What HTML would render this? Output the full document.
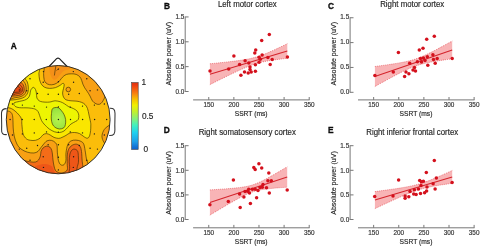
<!DOCTYPE html>
<html><head><meta charset="utf-8"><style>
html,body{margin:0;padding:0;background:#fff;}
svg{display:block;font-family:"Liberation Sans", sans-serif;filter:blur(0.35px);}
text{stroke:#333;stroke-width:0.16px;}
text.b{stroke:#000;stroke-width:0.3px;}
</style></head><body>
<svg width="480" height="247" viewBox="0 0 480 247">
<rect width="480" height="247" fill="#fff"/>
<defs><clipPath id="hc"><ellipse cx="58.2" cy="119.65" rx="51.9" ry="54.15"/></clipPath></defs>
<path d="M6.6,108.6 C3.4,108.6 1.6,109.6 1.5,113 C1.4,118 1.9,124 1.6,129.5 C1.4,133.2 2.6,134.8 6.8,134.6" fill="#fff" stroke="#333" stroke-width="1.05"/>
<path d="M109.8,108.2 C113.3,108 114.9,109.2 115,113.2 C115.1,118.5 114.6,124 114.9,129.5 C115.1,133.6 114,135.6 109.2,135.4" fill="#fff" stroke="#333" stroke-width="1.05"/>
<path d="M48.6,67 L56.6,58.6 Q58,57.6 59.4,58.6 L67.6,67" fill="#fff" stroke="#1a1a1a" stroke-width="1.1" stroke-linejoin="round"/>
<defs><radialGradient id="gg" gradientUnits="userSpaceOnUse" cx="58.6" cy="119" r="10"><stop offset="0" stop-color="#b8f44c"/><stop offset="1" stop-color="#9ae440"/></radialGradient></defs>
<g clip-path="url(#hc)">
<ellipse cx="58.2" cy="119.65" rx="51.9" ry="54.15" fill="#fbbd0a"/>
<path d="M44,58 C31.7,59.72 44.27,65.68 44.2,68.3 C44.13,70.92 43.6,71.78 43.6,73.7 C43.6,75.62 43.8,78.25 44.2,79.8 C44.6,81.35 45.12,82.18 46,83 C46.88,83.82 48.17,84.47 49.5,84.7 C50.83,84.93 52.52,84.85 54,84.4 C55.48,83.95 57.18,82.97 58.4,82 C59.62,81.03 60.45,79.55 61.3,78.6 C62.15,77.65 62.63,77 63.5,76.3 C64.37,75.6 65.18,74.82 66.5,74.4 C67.82,73.98 69.78,73.8 71.4,73.8 C73.02,73.8 74.78,73.88 76.2,74.4 C77.62,74.92 78.98,75.88 79.9,76.9 C80.82,77.92 81.2,79.28 81.7,80.5 C82.2,81.72 82.4,82.98 82.9,84.2 C83.4,85.42 83.98,86.6 84.7,87.8 C85.42,89 86.32,90.03 87.2,91.4 C88.08,92.77 89.12,94.4 90,96 C90.88,97.6 91.5,99.7 92.5,101 C93.5,102.3 94.83,103.25 96,103.8 C97.17,104.35 98.45,104.6 99.5,104.3 C100.55,104 101.47,103.05 102.3,102 C103.13,100.95 103.72,99.33 104.5,98 C105.28,96.67 104.75,94.67 107,94 C109.25,93.33 116.17,100 118,94 C119.83,88 130.33,64 118,58 C105.67,52 56.3,56.28 44,58Z" fill="#f8a014" stroke="#3a2a06" stroke-width="0.7" stroke-opacity="0.9"/>
<path d="M49,60 C45.25,61.67 49.17,67.33 49.5,70 C49.83,72.67 50.33,74.42 51,76 C51.67,77.58 52.58,79 53.5,79.5 C54.42,80 55.5,79.67 56.5,79 C57.5,78.33 58.5,76.67 59.5,75.5 C60.5,74.33 61.42,72.92 62.5,72 C63.58,71.08 64.75,70.58 66,70 C67.25,69.42 69,70.17 70,68.5 C71,66.83 75.5,61.42 72,60 C68.5,58.58 52.75,58.33 49,60Z" fill="#f59018"/>
<path d="M0,111 C1.23,99.5 5.6,110.78 7.4,111 C9.2,111.22 9.95,111.55 10.8,112.3 C11.65,113.05 12.13,113.88 12.5,115.5 C12.87,117.12 12.88,119.92 13,122 C13.12,124.08 13,125.67 13.2,128 C13.4,130.33 13.58,133.33 14.2,136 C14.82,138.67 15.77,141.83 16.9,144 C18.03,146.17 19.25,147.63 21,149 C22.75,150.37 25.25,151.53 27.4,152.2 C29.55,152.87 32.13,153.13 33.9,153 C35.67,152.87 36.88,152.23 38,151.4 C39.12,150.57 39.67,149.2 40.6,148 C41.53,146.8 42.53,145.4 43.6,144.2 C44.67,143 45.68,141.43 47,140.8 C48.32,140.17 50.17,140.15 51.5,140.4 C52.83,140.65 54.08,141.45 55,142.3 C55.92,143.15 56.6,143.73 57,145.5 C57.4,147.27 57.17,150.42 57.4,152.9 C57.63,155.38 57.87,158.43 58.4,160.4 C58.93,162.37 59.67,163.98 60.6,164.7 C61.53,165.42 63.12,165.42 64,164.7 C64.88,163.98 65.57,162.37 65.9,160.4 C66.23,158.43 65.68,155.55 66,152.9 C66.32,150.25 66.95,146.5 67.8,144.5 C68.65,142.5 69.75,141.63 71.1,140.9 C72.45,140.17 74.28,140.03 75.9,140.1 C77.52,140.17 79.48,140.6 80.8,141.3 C82.12,142 83.02,142.37 83.8,144.3 C84.58,146.23 85.05,150.4 85.5,152.9 C85.95,155.4 85.97,157.15 86.5,159.3 C87.03,161.45 87.78,162.35 88.7,165.8 C89.62,169.25 106.78,177.63 92,180 C77.22,182.37 15.33,191.5 0,180 C-15.33,168.5 -1.23,122.5 0,111Z" fill="#f8a014" stroke="#3a2a06" stroke-width="0.7" stroke-opacity="0.9"/>
<path d="M116,124 C114.85,119.9 111.05,124.48 109.1,125.4 C107.15,126.32 105.48,127.82 104.3,129.5 C103.12,131.18 102.22,133.67 102,135.5 C101.78,137.33 102.42,139 103,140.5 C103.58,142 104.67,143.33 105.5,144.5 C106.33,145.67 106.25,146.58 108,147.5 C109.75,148.42 114.67,153.92 116,150 C117.33,146.08 117.15,128.1 116,124Z" fill="#f8a014" stroke="#3a2a06" stroke-width="0.7" stroke-opacity="0.9"/>
<path d="M18,72 C21.13,72.33 21.6,78.08 22.8,80 C24,81.92 24.63,82.2 25.2,83.5 C25.77,84.8 26.1,86.38 26.2,87.8 C26.3,89.22 26.2,90.8 25.8,92 C25.4,93.2 24.77,94.2 23.8,95 C22.83,95.8 21.38,96.37 20,96.8 C18.62,97.23 18.17,97.32 15.5,97.6 C12.83,97.88 5.92,101.77 4,98.5 C2.08,95.23 1.67,82.42 4,78 C6.33,73.58 14.87,71.67 18,72Z" fill="#f8a014" stroke="#3a2a06" stroke-width="0.7" stroke-opacity="0.9"/>
<path d="M16,75 C18.8,75 19.58,80.33 20.8,82 C22.02,83.67 22.73,83.92 23.3,85 C23.87,86.08 24.12,87.33 24.2,88.5 C24.28,89.67 24.22,91.03 23.8,92 C23.38,92.97 22.62,93.72 21.7,94.3 C20.78,94.88 19.92,95.18 18.3,95.5 C16.68,95.82 14.38,95.95 12,96.2 C9.62,96.45 5.33,99.37 4,97 C2.67,94.63 2,85.67 4,82 C6,78.33 13.2,75 16,75Z" fill="#f46c18" stroke="#3a2a06" stroke-width="0.7" stroke-opacity="0.9"/>
<path d="M15,79 C17.3,78.78 18.63,83.37 19.8,84.7 C20.97,86.03 21.55,86.15 22,87 C22.45,87.85 22.55,88.97 22.5,89.8 C22.45,90.63 22.2,91.42 21.7,92 C21.2,92.58 20.37,93 19.5,93.3 C18.63,93.6 18.08,93.6 16.5,93.8 C14.92,94 11.75,95.8 10,94.5 C8.25,93.2 5.17,88.58 6,86 C6.83,83.42 12.7,79.22 15,79Z" fill="#ee5618" stroke="#3a2a06" stroke-width="0.7" stroke-opacity="0.9"/>
<path d="M16,84 C17.42,83.08 17.75,86.25 18.5,87 C19.25,87.75 20.12,87.87 20.5,88.5 C20.88,89.13 21.05,90.22 20.8,90.8 C20.55,91.38 19.8,91.75 19,92 C18.2,92.25 17.5,92.22 16,92.3 C14.5,92.38 10,93.88 10,92.5 C10,91.12 14.58,84.92 16,84Z" fill="#e84a14" stroke="#3a2a06" stroke-width="0.7" stroke-opacity="0.9"/>
<path d="M8,150 C9,145.42 12.38,151.57 14,152.5 C15.62,153.43 16,154.3 17.7,155.6 C19.4,156.9 22.03,159.25 24.2,160.3 C26.37,161.35 28.82,161.62 30.7,161.9 C32.58,162.18 34.2,162.32 35.5,162 C36.8,161.68 37.68,161 38.5,160 C39.32,159 39.98,157.42 40.4,156 C40.82,154.58 40.57,152.83 41,151.5 C41.43,150.17 42.1,148.88 43,148 C43.9,147.12 45.27,146.35 46.4,146.2 C47.53,146.05 48.9,146.38 49.8,147.1 C50.7,147.82 51.35,149.18 51.8,150.5 C52.25,151.82 52.3,153.42 52.5,155 C52.7,156.58 52.75,158.17 53,160 C53.25,161.83 53.58,164.25 54,166 C54.42,167.75 54.75,169.42 55.5,170.5 C56.25,171.58 57.25,172.12 58.5,172.5 C59.75,172.88 61.55,173.22 63,172.8 C64.45,172.38 66.5,171.53 67.2,170 C67.9,168.47 67.17,166.27 67.2,163.6 C67.23,160.93 67.1,156.52 67.4,154 C67.7,151.48 68.18,149.97 69,148.5 C69.82,147.03 71.05,145.92 72.3,145.2 C73.55,144.48 75.22,144.02 76.5,144.2 C77.78,144.38 79.17,145.08 80,146.3 C80.83,147.52 81.13,149.02 81.5,151.5 C81.87,153.98 81.92,158.53 82.2,161.2 C82.48,163.87 82.73,165.53 83.2,167.5 C83.67,169.47 84.2,170.92 85,173 C85.8,175.08 100.83,178.83 88,180 C75.17,181.17 21.33,185 8,180 C-5.33,175 7,154.58 8,150Z" fill="#f46c18" stroke="#3a2a06" stroke-width="0.7" stroke-opacity="0.9"/>
<path d="M30,180 C26.17,178.33 31.08,172.25 32,170 C32.92,167.75 34.33,167.33 35.5,166.5 C36.67,165.67 37.75,165.42 39,165 C40.25,164.58 41.67,164.13 43,164 C44.33,163.87 45.75,163.95 47,164.2 C48.25,164.45 49.5,164.78 50.5,165.5 C51.5,166.22 52.25,166.08 53,168.5 C53.75,170.92 58.83,178.08 55,180 C51.17,181.92 33.83,181.67 30,180Z" fill="#ee5618"/>
<path d="M68,180 C67.02,178.05 69.4,171.43 69.6,168.3 C69.8,165.17 69.15,163.57 69.2,161.2 C69.25,158.83 69.43,155.97 69.9,154.1 C70.37,152.23 71.17,150.82 72,150 C72.83,149.18 73.95,148.98 74.9,149.2 C75.85,149.42 77.12,150 77.7,151.3 C78.28,152.6 78.28,155.12 78.4,157 C78.52,158.88 78.63,160.72 78.4,162.6 C78.17,164.48 77.48,165.4 77,168.3 C76.52,171.2 77,178.05 75.5,180 C74,181.95 68.98,181.95 68,180Z" fill="#ee5618" stroke="#3a2a06" stroke-width="0.7" stroke-opacity="0.9"/>
<path d="M30,60 C32.8,59.75 37.32,66.22 38.8,68.5 C40.28,70.78 38.77,71.82 38.9,73.7 C39.03,75.58 39.18,78.05 39.6,79.8 C40.02,81.55 40.58,82.97 41.4,84.2 C42.22,85.43 43.15,86.5 44.5,87.2 C45.85,87.9 47.67,88.33 49.5,88.4 C51.33,88.47 53.73,88.12 55.5,87.6 C57.27,87.08 58.85,86.02 60.1,85.3 C61.35,84.58 62.32,83.38 63,83.3 C63.68,83.22 64.12,83.93 64.2,84.8 C64.28,85.67 63.77,87.13 63.5,88.5 C63.23,89.87 62.6,91.58 62.6,93 C62.6,94.42 62.93,95.87 63.5,97 C64.07,98.13 64.75,99.17 66,99.8 C67.25,100.43 69.17,100.57 71,100.8 C72.83,101.03 75.22,100.93 77,101.2 C78.78,101.47 80.37,101.85 81.7,102.4 C83.03,102.95 84.03,103.48 85,104.5 C85.97,105.52 86.83,106.75 87.5,108.5 C88.17,110.25 88.48,112.7 89,115 C89.52,117.3 90.3,120.47 90.6,122.3 C90.9,124.13 90.8,124.63 90.8,126 C90.8,127.37 90.8,128.87 90.6,130.5 C90.4,132.13 90.12,134.52 89.6,135.8 C89.08,137.08 88.37,138 87.5,138.2 C86.63,138.4 85.72,137.77 84.4,137 C83.08,136.23 81.22,134.35 79.6,133.6 C77.98,132.85 76.32,132.6 74.7,132.5 C73.08,132.4 71.35,132.52 69.9,133 C68.45,133.48 67.32,134.67 66,135.4 C64.68,136.13 63.22,136.9 62,137.4 C60.78,137.9 60.03,138.4 58.7,138.4 C57.37,138.4 55.42,137.97 54,137.4 C52.58,136.83 51.45,135.63 50.2,135 C48.95,134.37 47.7,133.63 46.5,133.6 C45.3,133.57 44.08,134.03 43,134.8 C41.92,135.57 41.25,137.28 40,138.2 C38.75,139.12 37.08,139.95 35.5,140.3 C33.92,140.65 32.02,140.55 30.5,140.3 C28.98,140.05 27.63,139.85 26.4,138.8 C25.17,137.75 23.85,136.35 23.1,134 C22.35,131.65 22.17,127.2 21.9,124.7 C21.63,122.2 21.95,120.58 21.5,119 C21.05,117.42 20.27,116.52 19.2,115.2 C18.13,113.88 16.62,112.28 15.1,111.1 C13.58,109.92 12.62,108.95 10.1,108.1 C7.58,107.25 1.68,107.27 0,106 C-1.68,104.73 -2,101.5 0,100.5 C2,99.5 9.08,100.2 12,100 C14.92,99.8 15.75,99.63 17.5,99.3 C19.25,98.97 21.08,98.6 22.5,98 C23.92,97.4 25.08,96.7 26,95.7 C26.92,94.7 27.62,93.45 28,92 C28.38,90.55 28.42,88.67 28.3,87 C28.18,85.33 27.85,83.45 27.3,82 C26.75,80.55 25.88,80.3 25,78.3 C24.12,76.3 21.17,73.05 22,70 C22.83,66.95 27.2,60.25 30,60Z" fill="#fae600" stroke="#3a2a06" stroke-width="0.7" stroke-opacity="0.9"/>
<path d="M14,103 C14.75,102.2 17.75,101.87 19.5,101.4 C21.25,100.93 23.08,100.73 24.5,100.2 C25.92,99.67 27.12,99.07 28,98.2 C28.88,97.33 29.38,96.23 29.8,95 C30.22,93.77 30.13,91.93 30.5,90.8 C30.87,89.67 31.45,88.77 32,88.2 C32.55,87.63 33.22,87.18 33.8,87.4 C34.38,87.62 35.07,88.57 35.5,89.5 C35.93,90.43 36.17,91.58 36.4,93 C36.63,94.42 36.43,96.7 36.9,98 C37.37,99.3 38.27,100.15 39.2,100.8 C40.13,101.45 41.13,101.67 42.5,101.9 C43.87,102.13 45.98,102.22 47.4,102.2 C48.82,102.18 49.73,102.03 51,101.8 C52.27,101.57 53.42,100.8 55,100.8 C56.58,100.8 58.92,101.3 60.5,101.8 C62.08,102.3 63.18,103.02 64.5,103.8 C65.82,104.58 66.9,105.7 68.4,106.5 C69.9,107.3 72.02,107.8 73.5,108.6 C74.98,109.4 76.42,110.18 77.3,111.3 C78.18,112.42 78.65,113.93 78.8,115.3 C78.95,116.67 78.75,118.47 78.2,119.5 C77.65,120.53 76.7,120.75 75.5,121.5 C74.3,122.25 72.33,122.98 71,124 C69.67,125.02 68.67,126.43 67.5,127.6 C66.33,128.77 65.33,130.18 64,131 C62.67,131.82 61.08,132.37 59.5,132.5 C57.92,132.63 56.17,132.35 54.5,131.8 C52.83,131.25 50.83,130.08 49.5,129.2 C48.17,128.32 47.42,127.37 46.5,126.5 C45.58,125.63 44.83,125 44,124 C43.17,123 42.23,121.92 41.5,120.5 C40.77,119.08 40.18,117 39.6,115.5 C39.02,114 38.8,112.58 38,111.5 C37.2,110.42 36.45,109.6 34.8,109 C33.15,108.4 30.63,108.12 28.1,107.9 C25.57,107.68 21.78,107.98 19.6,107.7 C17.42,107.42 15.93,106.98 15,106.2 C14.07,105.42 13.25,103.8 14,103Z" fill="#edf502" stroke="#3a2a06" stroke-width="0.7" stroke-opacity="0.9"/>
<path d="M52.3,109 C52.88,108.02 53.95,107.8 55,107.6 C56.05,107.4 57.52,107.27 58.6,107.8 C59.68,108.33 60.6,109.68 61.5,110.8 C62.4,111.92 63.32,113.05 64,114.5 C64.68,115.95 65.37,117.83 65.6,119.5 C65.83,121.17 65.7,123.12 65.4,124.5 C65.1,125.88 64.8,127.05 63.8,127.8 C62.8,128.55 60.87,129.08 59.4,129 C57.93,128.92 56.17,128.13 55,127.3 C53.83,126.47 53.02,125.38 52.4,124 C51.78,122.62 51.45,120.75 51.3,119 C51.15,117.25 51.33,115.17 51.5,113.5 C51.67,111.83 51.72,109.98 52.3,109Z" fill="url(#gg)" stroke="#3a2a06" stroke-width="0.7" stroke-opacity="0.9"/>
<path d="M55.8,66.2 C55.4,69 54.8,72 54.4,75.5 M56.6,70.6 L58.6,68.6" fill="none" stroke="#3a2a06" stroke-width="0.7" stroke-opacity="0.9"/>
<circle cx="68.3" cy="89.5" r="2.3" fill="#f8a014" stroke="#3a2a06" stroke-width="0.7" stroke-opacity="0.9"/>
<circle cx="10.11" cy="119.5" r="0.7" fill="#1a1a1a"/>
<circle cx="12.47" cy="103.93" r="0.7" fill="#1a1a1a"/>
<circle cx="12.47" cy="135.07" r="0.7" fill="#1a1a1a"/>
<circle cx="19.33" cy="89.88" r="0.7" fill="#1a1a1a"/>
<circle cx="19.33" cy="149.12" r="0.7" fill="#1a1a1a"/>
<circle cx="22.21" cy="119.5" r="0.7" fill="#1a1a1a"/>
<circle cx="22.4" cy="105.08" r="0.7" fill="#1a1a1a"/>
<circle cx="22.4" cy="133.92" r="0.7" fill="#1a1a1a"/>
<circle cx="26.73" cy="90.78" r="0.7" fill="#1a1a1a"/>
<circle cx="26.73" cy="148.22" r="0.7" fill="#1a1a1a"/>
<circle cx="30.02" cy="78.74" r="0.7" fill="#1a1a1a"/>
<circle cx="30.02" cy="160.26" r="0.7" fill="#1a1a1a"/>
<circle cx="34.21" cy="119.5" r="0.7" fill="#1a1a1a"/>
<circle cx="34.29" cy="106.12" r="0.7" fill="#1a1a1a"/>
<circle cx="34.29" cy="132.88" r="0.7" fill="#1a1a1a"/>
<circle cx="37.5" cy="93.52" r="0.7" fill="#1a1a1a"/>
<circle cx="37.5" cy="145.48" r="0.7" fill="#1a1a1a"/>
<circle cx="43.22" cy="82.2" r="0.7" fill="#1a1a1a"/>
<circle cx="43.22" cy="156.8" r="0.7" fill="#1a1a1a"/>
<circle cx="43.48" cy="71.58" r="0.7" fill="#1a1a1a"/>
<circle cx="43.48" cy="167.42" r="0.7" fill="#1a1a1a"/>
<circle cx="46.3" cy="119.5" r="0.7" fill="#1a1a1a"/>
<circle cx="46.51" cy="107.09" r="0.7" fill="#1a1a1a"/>
<circle cx="46.51" cy="131.91" r="0.7" fill="#1a1a1a"/>
<circle cx="48.14" cy="94.27" r="0.7" fill="#1a1a1a"/>
<circle cx="48.14" cy="144.73" r="0.7" fill="#1a1a1a"/>
<circle cx="58.4" cy="69.12" r="0.7" fill="#1a1a1a"/>
<circle cx="58.4" cy="81.74" r="0.7" fill="#1a1a1a"/>
<circle cx="58.4" cy="94.26" r="0.7" fill="#1a1a1a"/>
<circle cx="58.4" cy="106.88" r="0.7" fill="#1a1a1a"/>
<circle cx="58.4" cy="119.5" r="0.7" fill="#1a1a1a"/>
<circle cx="58.4" cy="132.12" r="0.7" fill="#1a1a1a"/>
<circle cx="58.4" cy="144.74" r="0.7" fill="#1a1a1a"/>
<circle cx="58.4" cy="157.26" r="0.7" fill="#1a1a1a"/>
<circle cx="58.4" cy="169.88" r="0.7" fill="#1a1a1a"/>
<circle cx="68.66" cy="94.27" r="0.7" fill="#1a1a1a"/>
<circle cx="68.66" cy="144.73" r="0.7" fill="#1a1a1a"/>
<circle cx="70.29" cy="107.09" r="0.7" fill="#1a1a1a"/>
<circle cx="70.29" cy="131.91" r="0.7" fill="#1a1a1a"/>
<circle cx="70.5" cy="119.5" r="0.7" fill="#1a1a1a"/>
<circle cx="73.32" cy="71.58" r="0.7" fill="#1a1a1a"/>
<circle cx="73.32" cy="167.42" r="0.7" fill="#1a1a1a"/>
<circle cx="73.58" cy="82.2" r="0.7" fill="#1a1a1a"/>
<circle cx="73.58" cy="156.8" r="0.7" fill="#1a1a1a"/>
<circle cx="79.3" cy="93.52" r="0.7" fill="#1a1a1a"/>
<circle cx="79.3" cy="145.48" r="0.7" fill="#1a1a1a"/>
<circle cx="82.51" cy="106.12" r="0.7" fill="#1a1a1a"/>
<circle cx="82.51" cy="132.88" r="0.7" fill="#1a1a1a"/>
<circle cx="82.59" cy="119.5" r="0.7" fill="#1a1a1a"/>
<circle cx="86.78" cy="78.74" r="0.7" fill="#1a1a1a"/>
<circle cx="86.78" cy="160.26" r="0.7" fill="#1a1a1a"/>
<circle cx="90.07" cy="90.78" r="0.7" fill="#1a1a1a"/>
<circle cx="90.07" cy="148.22" r="0.7" fill="#1a1a1a"/>
<circle cx="94.4" cy="105.08" r="0.7" fill="#1a1a1a"/>
<circle cx="94.4" cy="133.92" r="0.7" fill="#1a1a1a"/>
<circle cx="94.59" cy="119.5" r="0.7" fill="#1a1a1a"/>
<circle cx="97.47" cy="89.88" r="0.7" fill="#1a1a1a"/>
<circle cx="97.47" cy="149.12" r="0.7" fill="#1a1a1a"/>
<circle cx="104.33" cy="103.93" r="0.7" fill="#1a1a1a"/>
<circle cx="104.33" cy="135.07" r="0.7" fill="#1a1a1a"/>
<circle cx="106.69" cy="119.5" r="0.7" fill="#1a1a1a"/>
</g>
<ellipse cx="58.2" cy="119.65" rx="51.9" ry="54.15" fill="none" stroke="#2a2a2a" stroke-width="0.95"/>
<text transform="translate(10.8,49) scale(1,1.04)" font-size="8.3" font-weight="bold" fill="#111" class="b">A</text>
<defs><linearGradient id="cb" x1="0" y1="1" x2="0" y2="0"><stop offset="0" stop-color="#0f60c8"/><stop offset="0.05" stop-color="#1478d8"/><stop offset="0.12" stop-color="#1ea0e8"/><stop offset="0.25" stop-color="#20d0f0"/><stop offset="0.36" stop-color="#40f0c0"/><stop offset="0.45" stop-color="#80f080"/><stop offset="0.56" stop-color="#c0f030"/><stop offset="0.66" stop-color="#f0f000"/><stop offset="0.75" stop-color="#f8c000"/><stop offset="0.84" stop-color="#f88010"/><stop offset="0.95" stop-color="#f04010"/><stop offset="1" stop-color="#d83010"/></linearGradient></defs>
<rect x="131.6" y="82.5" width="6.6" height="67" fill="url(#cb)" stroke="#4a4a4a" stroke-width="0.6"/>
<text transform="translate(141.6,84.6) scale(1,1.04)" font-size="8.3" fill="#222">1</text>
<text transform="translate(141.9,118.5) scale(1,1.04)" font-size="8.3" fill="#222">0.5</text>
<text transform="translate(143.4,152.4) scale(1,1.04)" font-size="8.3" fill="#222">0</text>
<text transform="translate(164,8.7) scale(1,1.04)" font-size="8.3" font-weight="bold" fill="#111" class="b">B</text>
<text transform="translate(247.3,6.6) scale(1,1.04)" font-size="7.85" text-anchor="middle" fill="#222">Left motor cortex</text>
<path d="M209.9,63.8 L211.84,63.61 L213.77,63.41 L215.71,63.22 L217.64,63.02 L219.58,62.82 L221.51,62.61 L223.44,62.4 L225.38,62.19 L227.31,61.98 L229.25,61.75 L231.19,61.53 L233.12,61.29 L235.06,61.05 L236.99,60.79 L238.93,60.53 L240.86,60.24 L242.8,59.94 L244.73,59.62 L246.67,59.28 L248.6,58.9 L250.54,58.49 L252.47,58.03 L254.41,57.53 L256.34,56.98 L258.28,56.38 L260.21,55.73 L262.14,55.03 L264.08,54.29 L266.01,53.52 L267.95,52.71 L269.88,51.87 L271.82,51.02 L273.75,50.14 L275.69,49.25 L277.62,48.35 L279.56,47.43 L281.5,46.51 L283.43,45.58 L285.37,44.64 L287.3,43.7 L287.3,58.3 L285.37,58.52 L283.43,58.74 L281.5,58.97 L279.56,59.21 L277.62,59.45 L275.69,59.71 L273.75,59.98 L271.82,60.26 L269.88,60.57 L267.95,60.89 L266.01,61.24 L264.08,61.63 L262.14,62.05 L260.21,62.51 L258.28,63.02 L256.34,63.58 L254.41,64.19 L252.47,64.85 L250.54,65.55 L248.6,66.3 L246.67,67.08 L244.73,67.9 L242.8,68.74 L240.86,69.6 L238.93,70.47 L236.99,71.37 L235.06,72.27 L233.12,73.19 L231.19,74.11 L229.25,75.05 L227.31,75.98 L225.38,76.93 L223.44,77.88 L221.51,78.83 L219.58,79.78 L217.64,80.74 L215.71,81.7 L213.77,82.67 L211.84,83.63 L209.9,84.6Z" fill="#f8b4b6"/>
<path d="M209.9,63.8 L211.84,63.61 L213.77,63.41 L215.71,63.22 L217.64,63.02 L219.58,62.82 L221.51,62.61 L223.44,62.4 L225.38,62.19 L227.31,61.98 L229.25,61.75 L231.19,61.53 L233.12,61.29 L235.06,61.05 L236.99,60.79 L238.93,60.53 L240.86,60.24 L242.8,59.94 L244.73,59.62 L246.67,59.28 L248.6,58.9 L250.54,58.49 L252.47,58.03 L254.41,57.53 L256.34,56.98 L258.28,56.38 L260.21,55.73 L262.14,55.03 L264.08,54.29 L266.01,53.52 L267.95,52.71 L269.88,51.87 L271.82,51.02 L273.75,50.14 L275.69,49.25 L277.62,48.35 L279.56,47.43 L281.5,46.51 L283.43,45.58 L285.37,44.64 L287.3,43.7" fill="none" stroke="#e0303a" stroke-width="0.7" stroke-dasharray="0.8 1.2"/>
<path d="M209.9,84.6 L211.84,83.63 L213.77,82.67 L215.71,81.7 L217.64,80.74 L219.58,79.78 L221.51,78.83 L223.44,77.88 L225.38,76.93 L227.31,75.98 L229.25,75.05 L231.19,74.11 L233.12,73.19 L235.06,72.27 L236.99,71.37 L238.93,70.47 L240.86,69.6 L242.8,68.74 L244.73,67.9 L246.67,67.08 L248.6,66.3 L250.54,65.55 L252.47,64.85 L254.41,64.19 L256.34,63.58 L258.28,63.02 L260.21,62.51 L262.14,62.05 L264.08,61.63 L266.01,61.24 L267.95,60.89 L269.88,60.57 L271.82,60.26 L273.75,59.98 L275.69,59.71 L277.62,59.45 L279.56,59.21 L281.5,58.97 L283.43,58.74 L285.37,58.52 L287.3,58.3" fill="none" stroke="#e0303a" stroke-width="0.7" stroke-dasharray="0.8 1.2"/>
<line x1="209.9" y1="74.2" x2="287.3" y2="51" stroke="#d4242c" stroke-width="1.05"/>
<circle cx="210" cy="71.1" r="1.75" fill="#d4101c"/>
<circle cx="228.7" cy="69" r="1.75" fill="#d4101c"/>
<circle cx="233.9" cy="55.9" r="1.75" fill="#d4101c"/>
<circle cx="239.6" cy="64.6" r="1.75" fill="#d4101c"/>
<circle cx="240.9" cy="75.3" r="1.75" fill="#d4101c"/>
<circle cx="244.5" cy="72.1" r="1.75" fill="#d4101c"/>
<circle cx="245.1" cy="60.7" r="1.75" fill="#d4101c"/>
<circle cx="248.2" cy="73.1" r="1.75" fill="#d4101c"/>
<circle cx="248.8" cy="63.1" r="1.75" fill="#d4101c"/>
<circle cx="250" cy="67" r="1.75" fill="#d4101c"/>
<circle cx="250" cy="69.4" r="1.75" fill="#d4101c"/>
<circle cx="251.2" cy="71.9" r="1.75" fill="#d4101c"/>
<circle cx="254.8" cy="53" r="1.75" fill="#d4101c"/>
<circle cx="255.7" cy="49.9" r="1.75" fill="#d4101c"/>
<circle cx="255.4" cy="64.8" r="1.75" fill="#d4101c"/>
<circle cx="255.4" cy="71.3" r="1.75" fill="#d4101c"/>
<circle cx="259.1" cy="57.3" r="1.75" fill="#d4101c"/>
<circle cx="259.1" cy="62.2" r="1.75" fill="#d4101c"/>
<circle cx="260.3" cy="59.3" r="1.75" fill="#d4101c"/>
<circle cx="262.1" cy="54.9" r="1.75" fill="#d4101c"/>
<circle cx="261.7" cy="40.6" r="1.75" fill="#d4101c"/>
<circle cx="267.9" cy="57.6" r="1.75" fill="#d4101c"/>
<circle cx="269.3" cy="34.4" r="1.75" fill="#d4101c"/>
<circle cx="270.2" cy="64.6" r="1.75" fill="#d4101c"/>
<circle cx="272.2" cy="59.5" r="1.75" fill="#d4101c"/>
<circle cx="287.4" cy="57" r="1.75" fill="#d4101c"/>
<line x1="185.2" y1="16.55" x2="185.2" y2="92" stroke="#777" stroke-width="1"/>
<line x1="185.2" y1="16.95" x2="188.6" y2="16.95" stroke="#777" stroke-width="1"/>
<text transform="translate(184.3,19.15) scale(1,1.04)" font-size="6.4" text-anchor="end" fill="#333">1.5</text>
<line x1="185.2" y1="41.8" x2="188.6" y2="41.8" stroke="#777" stroke-width="1"/>
<text transform="translate(184.3,44) scale(1,1.04)" font-size="6.4" text-anchor="end" fill="#333">1.0</text>
<line x1="185.2" y1="66.65" x2="188.6" y2="66.65" stroke="#777" stroke-width="1"/>
<text transform="translate(184.3,68.85) scale(1,1.04)" font-size="6.4" text-anchor="end" fill="#333">0.5</text>
<line x1="185.2" y1="91.5" x2="188.6" y2="91.5" stroke="#777" stroke-width="1"/>
<text transform="translate(184.3,93.7) scale(1,1.04)" font-size="6.4" text-anchor="end" fill="#333">0.0</text>
<line x1="193.1" y1="99.9" x2="309.6" y2="99.9" stroke="#777" stroke-width="1"/>
<line x1="208.75" y1="99.9" x2="208.75" y2="97" stroke="#777" stroke-width="1"/>
<text transform="translate(208.75,106.6) scale(1,1.04)" font-size="6.4" text-anchor="middle" fill="#333">150</text>
<line x1="233.87" y1="99.9" x2="233.87" y2="97" stroke="#777" stroke-width="1"/>
<text transform="translate(233.87,106.6) scale(1,1.04)" font-size="6.4" text-anchor="middle" fill="#333">200</text>
<line x1="258.98" y1="99.9" x2="258.98" y2="97" stroke="#777" stroke-width="1"/>
<text transform="translate(258.98,106.6) scale(1,1.04)" font-size="6.4" text-anchor="middle" fill="#333">250</text>
<line x1="284.1" y1="99.9" x2="284.1" y2="97" stroke="#777" stroke-width="1"/>
<text transform="translate(284.1,106.6) scale(1,1.04)" font-size="6.4" text-anchor="middle" fill="#333">300</text>
<line x1="309.21" y1="99.9" x2="309.21" y2="97" stroke="#777" stroke-width="1"/>
<text transform="translate(309.21,106.6) scale(1,1.04)" font-size="6.4" text-anchor="middle" fill="#333">350</text>
<text transform="translate(251.1,116.3) scale(1,1.04)" font-size="6.7" text-anchor="middle" fill="#222">SSRT (ms)</text>
<text transform="translate(171.3,53.75) rotate(-90)" font-size="7" text-anchor="middle" fill="#222">Absolute power (uV)</text>
<text transform="translate(328.1,8.7) scale(1,1.04)" font-size="8.3" font-weight="bold" fill="#111" class="b">C</text>
<text transform="translate(412.2,6.6) scale(1,1.04)" font-size="7.85" text-anchor="middle" fill="#222">Right motor cortex</text>
<path d="M374.9,66.5 L376.83,66.24 L378.76,65.99 L380.7,65.73 L382.63,65.46 L384.56,65.19 L386.5,64.92 L388.43,64.64 L390.36,64.36 L392.29,64.06 L394.22,63.76 L396.16,63.45 L398.09,63.13 L400.02,62.79 L401.95,62.43 L403.89,62.05 L405.82,61.65 L407.75,61.21 L409.69,60.73 L411.62,60.22 L413.55,59.65 L415.48,59.03 L417.41,58.36 L419.35,57.63 L421.28,56.85 L423.21,56.03 L425.14,55.16 L427.08,54.26 L429.01,53.32 L430.94,52.37 L432.88,51.39 L434.81,50.39 L436.74,49.38 L438.67,48.36 L440.61,47.33 L442.54,46.29 L444.47,45.24 L446.4,44.19 L448.33,43.13 L450.27,42.07 L452.2,41 L452.2,58.8 L450.27,59.06 L448.33,59.33 L446.4,59.6 L444.47,59.88 L442.54,60.16 L440.61,60.45 L438.67,60.75 L436.74,61.06 L434.81,61.38 L432.88,61.71 L430.94,62.06 L429.01,62.44 L427.08,62.83 L425.14,63.26 L423.21,63.72 L421.28,64.23 L419.35,64.78 L417.41,65.38 L415.48,66.04 L413.55,66.75 L411.62,67.51 L409.69,68.33 L407.75,69.18 L405.82,70.07 L403.89,71 L401.95,71.95 L400.02,72.92 L398.09,73.91 L396.16,74.92 L394.22,75.94 L392.29,76.97 L390.36,78 L388.43,79.05 L386.5,80.1 L384.56,81.16 L382.63,82.22 L380.7,83.28 L378.76,84.35 L376.83,85.43 L374.9,86.5Z" fill="#f8b4b6"/>
<path d="M374.9,66.5 L376.83,66.24 L378.76,65.99 L380.7,65.73 L382.63,65.46 L384.56,65.19 L386.5,64.92 L388.43,64.64 L390.36,64.36 L392.29,64.06 L394.22,63.76 L396.16,63.45 L398.09,63.13 L400.02,62.79 L401.95,62.43 L403.89,62.05 L405.82,61.65 L407.75,61.21 L409.69,60.73 L411.62,60.22 L413.55,59.65 L415.48,59.03 L417.41,58.36 L419.35,57.63 L421.28,56.85 L423.21,56.03 L425.14,55.16 L427.08,54.26 L429.01,53.32 L430.94,52.37 L432.88,51.39 L434.81,50.39 L436.74,49.38 L438.67,48.36 L440.61,47.33 L442.54,46.29 L444.47,45.24 L446.4,44.19 L448.33,43.13 L450.27,42.07 L452.2,41" fill="none" stroke="#e0303a" stroke-width="0.7" stroke-dasharray="0.8 1.2"/>
<path d="M374.9,86.5 L376.83,85.43 L378.76,84.35 L380.7,83.28 L382.63,82.22 L384.56,81.16 L386.5,80.1 L388.43,79.05 L390.36,78 L392.29,76.97 L394.22,75.94 L396.16,74.92 L398.09,73.91 L400.02,72.92 L401.95,71.95 L403.89,71 L405.82,70.07 L407.75,69.18 L409.69,68.33 L411.62,67.51 L413.55,66.75 L415.48,66.04 L417.41,65.38 L419.35,64.78 L421.28,64.23 L423.21,63.72 L425.14,63.26 L427.08,62.83 L429.01,62.44 L430.94,62.06 L432.88,61.71 L434.81,61.38 L436.74,61.06 L438.67,60.75 L440.61,60.45 L442.54,60.16 L444.47,59.88 L446.4,59.6 L448.33,59.33 L450.27,59.06 L452.2,58.8" fill="none" stroke="#e0303a" stroke-width="0.7" stroke-dasharray="0.8 1.2"/>
<line x1="374.9" y1="76.5" x2="452.2" y2="49.9" stroke="#d4242c" stroke-width="1.05"/>
<circle cx="374.9" cy="75.6" r="1.75" fill="#d4101c"/>
<circle cx="393.3" cy="72" r="1.75" fill="#d4101c"/>
<circle cx="398.4" cy="52.5" r="1.75" fill="#d4101c"/>
<circle cx="404.6" cy="76.5" r="1.75" fill="#d4101c"/>
<circle cx="406" cy="72" r="1.75" fill="#d4101c"/>
<circle cx="408.9" cy="73.7" r="1.75" fill="#d4101c"/>
<circle cx="409.7" cy="63.2" r="1.75" fill="#d4101c"/>
<circle cx="413" cy="70" r="1.75" fill="#d4101c"/>
<circle cx="414.5" cy="67.5" r="1.75" fill="#d4101c"/>
<circle cx="415.5" cy="71" r="1.75" fill="#d4101c"/>
<circle cx="417.4" cy="61.8" r="1.75" fill="#d4101c"/>
<circle cx="419.3" cy="49.9" r="1.75" fill="#d4101c"/>
<circle cx="420.5" cy="58.4" r="1.75" fill="#d4101c"/>
<circle cx="421.5" cy="62" r="1.75" fill="#d4101c"/>
<circle cx="423" cy="48.2" r="1.75" fill="#d4101c"/>
<circle cx="423.5" cy="58" r="1.75" fill="#d4101c"/>
<circle cx="425" cy="60.5" r="1.75" fill="#d4101c"/>
<circle cx="426.7" cy="39.2" r="1.75" fill="#d4101c"/>
<circle cx="427.3" cy="56.7" r="1.75" fill="#d4101c"/>
<circle cx="427.8" cy="65.2" r="1.75" fill="#d4101c"/>
<circle cx="432.9" cy="54.7" r="1.75" fill="#d4101c"/>
<circle cx="433.5" cy="59.5" r="1.75" fill="#d4101c"/>
<circle cx="434.3" cy="36.3" r="1.75" fill="#d4101c"/>
<circle cx="435.2" cy="63.2" r="1.75" fill="#d4101c"/>
<circle cx="437.2" cy="58.4" r="1.75" fill="#d4101c"/>
<circle cx="452.2" cy="58.4" r="1.75" fill="#d4101c"/>
<line x1="350.1" y1="17.35" x2="350.1" y2="92.8" stroke="#777" stroke-width="1"/>
<line x1="350.1" y1="17.75" x2="353.5" y2="17.75" stroke="#777" stroke-width="1"/>
<text transform="translate(349.2,19.15) scale(1,1.04)" font-size="6.4" text-anchor="end" fill="#333">1.5</text>
<line x1="350.1" y1="42.6" x2="353.5" y2="42.6" stroke="#777" stroke-width="1"/>
<text transform="translate(349.2,44) scale(1,1.04)" font-size="6.4" text-anchor="end" fill="#333">1.0</text>
<line x1="350.1" y1="67.45" x2="353.5" y2="67.45" stroke="#777" stroke-width="1"/>
<text transform="translate(349.2,68.85) scale(1,1.04)" font-size="6.4" text-anchor="end" fill="#333">0.5</text>
<line x1="350.1" y1="92.3" x2="353.5" y2="92.3" stroke="#777" stroke-width="1"/>
<text transform="translate(349.2,93.7) scale(1,1.04)" font-size="6.4" text-anchor="end" fill="#333">0.0</text>
<line x1="358" y1="99.9" x2="474.5" y2="99.9" stroke="#777" stroke-width="1"/>
<line x1="373.65" y1="99.9" x2="373.65" y2="97" stroke="#777" stroke-width="1"/>
<text transform="translate(373.65,106.6) scale(1,1.04)" font-size="6.4" text-anchor="middle" fill="#333">150</text>
<line x1="398.76" y1="99.9" x2="398.76" y2="97" stroke="#777" stroke-width="1"/>
<text transform="translate(398.76,106.6) scale(1,1.04)" font-size="6.4" text-anchor="middle" fill="#333">200</text>
<line x1="423.88" y1="99.9" x2="423.88" y2="97" stroke="#777" stroke-width="1"/>
<text transform="translate(423.88,106.6) scale(1,1.04)" font-size="6.4" text-anchor="middle" fill="#333">250</text>
<line x1="449" y1="99.9" x2="449" y2="97" stroke="#777" stroke-width="1"/>
<text transform="translate(449,106.6) scale(1,1.04)" font-size="6.4" text-anchor="middle" fill="#333">300</text>
<line x1="474.11" y1="99.9" x2="474.11" y2="97" stroke="#777" stroke-width="1"/>
<text transform="translate(474.11,106.6) scale(1,1.04)" font-size="6.4" text-anchor="middle" fill="#333">350</text>
<text transform="translate(416,116.3) scale(1,1.04)" font-size="6.7" text-anchor="middle" fill="#222">SSRT (ms)</text>
<text transform="translate(336.2,53.75) rotate(-90)" font-size="7" text-anchor="middle" fill="#222">Absolute power (uV)</text>
<text transform="translate(163.8,132.8) scale(1,1.04)" font-size="8.3" font-weight="bold" fill="#111" class="b">D</text>
<text transform="translate(247.3,134.9) scale(1,1.04)" font-size="7.85" text-anchor="middle" fill="#222">Right somatosensory cortex</text>
<path d="M209.9,189.9 L211.83,189.78 L213.77,189.66 L215.7,189.54 L217.63,189.42 L219.56,189.29 L221.5,189.16 L223.43,189.02 L225.36,188.88 L227.29,188.73 L229.22,188.58 L231.16,188.42 L233.09,188.25 L235.02,188.06 L236.96,187.86 L238.89,187.64 L240.82,187.4 L242.75,187.12 L244.69,186.81 L246.62,186.45 L248.55,186.03 L250.48,185.54 L252.41,184.97 L254.35,184.32 L256.28,183.58 L258.21,182.77 L260.14,181.9 L262.08,180.97 L264.01,179.99 L265.94,178.98 L267.88,177.94 L269.81,176.88 L271.74,175.8 L273.67,174.7 L275.61,173.59 L277.54,172.48 L279.47,171.35 L281.4,170.22 L283.33,169.09 L285.27,167.94 L287.2,166.8 L287.2,187.2 L285.27,187.33 L283.33,187.46 L281.4,187.6 L279.47,187.75 L277.54,187.9 L275.61,188.06 L273.67,188.22 L271.74,188.4 L269.81,188.6 L267.88,188.81 L265.94,189.05 L264.01,189.31 L262.08,189.61 L260.14,189.95 L258.21,190.35 L256.28,190.82 L254.35,191.36 L252.41,191.98 L250.48,192.69 L248.55,193.47 L246.62,194.32 L244.69,195.24 L242.75,196.2 L240.82,197.2 L238.89,198.23 L236.96,199.29 L235.02,200.36 L233.09,201.45 L231.16,202.56 L229.22,203.67 L227.29,204.79 L225.36,205.92 L223.43,207.05 L221.5,208.19 L219.56,209.34 L217.63,210.48 L215.7,211.63 L213.77,212.79 L211.83,213.94 L209.9,215.1Z" fill="#f8b4b6"/>
<path d="M209.9,189.9 L211.83,189.78 L213.77,189.66 L215.7,189.54 L217.63,189.42 L219.56,189.29 L221.5,189.16 L223.43,189.02 L225.36,188.88 L227.29,188.73 L229.22,188.58 L231.16,188.42 L233.09,188.25 L235.02,188.06 L236.96,187.86 L238.89,187.64 L240.82,187.4 L242.75,187.12 L244.69,186.81 L246.62,186.45 L248.55,186.03 L250.48,185.54 L252.41,184.97 L254.35,184.32 L256.28,183.58 L258.21,182.77 L260.14,181.9 L262.08,180.97 L264.01,179.99 L265.94,178.98 L267.88,177.94 L269.81,176.88 L271.74,175.8 L273.67,174.7 L275.61,173.59 L277.54,172.48 L279.47,171.35 L281.4,170.22 L283.33,169.09 L285.27,167.94 L287.2,166.8" fill="none" stroke="#e0303a" stroke-width="0.7" stroke-dasharray="0.8 1.2"/>
<path d="M209.9,215.1 L211.83,213.94 L213.77,212.79 L215.7,211.63 L217.63,210.48 L219.56,209.34 L221.5,208.19 L223.43,207.05 L225.36,205.92 L227.29,204.79 L229.22,203.67 L231.16,202.56 L233.09,201.45 L235.02,200.36 L236.96,199.29 L238.89,198.23 L240.82,197.2 L242.75,196.2 L244.69,195.24 L246.62,194.32 L248.55,193.47 L250.48,192.69 L252.41,191.98 L254.35,191.36 L256.28,190.82 L258.21,190.35 L260.14,189.95 L262.08,189.61 L264.01,189.31 L265.94,189.05 L267.88,188.81 L269.81,188.6 L271.74,188.4 L273.67,188.22 L275.61,188.06 L277.54,187.9 L279.47,187.75 L281.4,187.6 L283.33,187.46 L285.27,187.33 L287.2,187.2" fill="none" stroke="#e0303a" stroke-width="0.7" stroke-dasharray="0.8 1.2"/>
<line x1="209.9" y1="202.5" x2="287.2" y2="177" stroke="#d4242c" stroke-width="1.05"/>
<circle cx="209.9" cy="204.8" r="1.75" fill="#d4101c"/>
<circle cx="228.3" cy="201.4" r="1.75" fill="#d4101c"/>
<circle cx="233.4" cy="179.9" r="1.75" fill="#d4101c"/>
<circle cx="239.6" cy="194" r="1.75" fill="#d4101c"/>
<circle cx="240.2" cy="207.6" r="1.75" fill="#d4101c"/>
<circle cx="243.9" cy="196.9" r="1.75" fill="#d4101c"/>
<circle cx="245" cy="191.5" r="1.75" fill="#d4101c"/>
<circle cx="247.6" cy="191.2" r="1.75" fill="#d4101c"/>
<circle cx="248.7" cy="189.2" r="1.75" fill="#d4101c"/>
<circle cx="249.5" cy="193" r="1.75" fill="#d4101c"/>
<circle cx="250.4" cy="203.4" r="1.75" fill="#d4101c"/>
<circle cx="252.4" cy="189.2" r="1.75" fill="#d4101c"/>
<circle cx="253.8" cy="167.4" r="1.75" fill="#d4101c"/>
<circle cx="255.2" cy="169.4" r="1.75" fill="#d4101c"/>
<circle cx="255.2" cy="189.2" r="1.75" fill="#d4101c"/>
<circle cx="256.6" cy="197.7" r="1.75" fill="#d4101c"/>
<circle cx="258" cy="190.6" r="1.75" fill="#d4101c"/>
<circle cx="258.9" cy="163.7" r="1.75" fill="#d4101c"/>
<circle cx="260" cy="187.5" r="1.75" fill="#d4101c"/>
<circle cx="261.7" cy="168" r="1.75" fill="#d4101c"/>
<circle cx="262.3" cy="187.2" r="1.75" fill="#d4101c"/>
<circle cx="263" cy="184.4" r="1.75" fill="#d4101c"/>
<circle cx="266.5" cy="187.8" r="1.75" fill="#d4101c"/>
<circle cx="267.9" cy="180.7" r="1.75" fill="#d4101c"/>
<circle cx="268.8" cy="173.1" r="1.75" fill="#d4101c"/>
<circle cx="269.3" cy="192.9" r="1.75" fill="#d4101c"/>
<circle cx="271.3" cy="180.7" r="1.75" fill="#d4101c"/>
<circle cx="287.2" cy="190.1" r="1.75" fill="#d4101c"/>
<line x1="185.2" y1="145.3" x2="185.2" y2="220" stroke="#777" stroke-width="1"/>
<line x1="185.2" y1="145.7" x2="188.6" y2="145.7" stroke="#777" stroke-width="1"/>
<text transform="translate(184.3,148.1) scale(1,1.04)" font-size="6.4" text-anchor="end" fill="#333">1.5</text>
<line x1="185.2" y1="170.3" x2="188.6" y2="170.3" stroke="#777" stroke-width="1"/>
<text transform="translate(184.3,172.7) scale(1,1.04)" font-size="6.4" text-anchor="end" fill="#333">1.0</text>
<line x1="185.2" y1="194.9" x2="188.6" y2="194.9" stroke="#777" stroke-width="1"/>
<text transform="translate(184.3,197.3) scale(1,1.04)" font-size="6.4" text-anchor="end" fill="#333">0.5</text>
<line x1="185.2" y1="219.5" x2="188.6" y2="219.5" stroke="#777" stroke-width="1"/>
<text transform="translate(184.3,221.9) scale(1,1.04)" font-size="6.4" text-anchor="end" fill="#333">0.0</text>
<line x1="193.1" y1="227.8" x2="309.6" y2="227.8" stroke="#777" stroke-width="1"/>
<line x1="208.75" y1="227.8" x2="208.75" y2="224.9" stroke="#777" stroke-width="1"/>
<text transform="translate(208.75,234.9) scale(1,1.04)" font-size="6.4" text-anchor="middle" fill="#333">150</text>
<line x1="233.87" y1="227.8" x2="233.87" y2="224.9" stroke="#777" stroke-width="1"/>
<text transform="translate(233.87,234.9) scale(1,1.04)" font-size="6.4" text-anchor="middle" fill="#333">200</text>
<line x1="258.98" y1="227.8" x2="258.98" y2="224.9" stroke="#777" stroke-width="1"/>
<text transform="translate(258.98,234.9) scale(1,1.04)" font-size="6.4" text-anchor="middle" fill="#333">250</text>
<line x1="284.1" y1="227.8" x2="284.1" y2="224.9" stroke="#777" stroke-width="1"/>
<text transform="translate(284.1,234.9) scale(1,1.04)" font-size="6.4" text-anchor="middle" fill="#333">300</text>
<line x1="309.21" y1="227.8" x2="309.21" y2="224.9" stroke="#777" stroke-width="1"/>
<text transform="translate(309.21,234.9) scale(1,1.04)" font-size="6.4" text-anchor="middle" fill="#333">350</text>
<text transform="translate(251.1,243.9) scale(1,1.04)" font-size="6.7" text-anchor="middle" fill="#222">SSRT (ms)</text>
<text transform="translate(171.3,183) rotate(-90)" font-size="7" text-anchor="middle" fill="#222">Absolute power (uV)</text>
<text transform="translate(328.1,132.8) scale(1,1.04)" font-size="8.3" font-weight="bold" fill="#111" class="b">E</text>
<text transform="translate(412.2,134.9) scale(1,1.04)" font-size="7.85" text-anchor="middle" fill="#222">Right inferior frontal cortex</text>
<path d="M374.9,191.6 L376.83,191.34 L378.76,191.09 L380.7,190.83 L382.63,190.57 L384.56,190.3 L386.5,190.04 L388.43,189.77 L390.36,189.49 L392.29,189.21 L394.22,188.93 L396.16,188.64 L398.09,188.35 L400.02,188.04 L401.95,187.73 L403.89,187.4 L405.82,187.06 L407.75,186.7 L409.69,186.32 L411.62,185.91 L413.55,185.48 L415.48,185.01 L417.41,184.5 L419.35,183.96 L421.28,183.37 L423.21,182.74 L425.14,182.07 L427.08,181.36 L429.01,180.62 L430.94,179.86 L432.88,179.07 L434.81,178.26 L436.74,177.44 L438.67,176.6 L440.61,175.75 L442.54,174.89 L444.47,174.02 L446.4,173.15 L448.33,172.27 L450.27,171.39 L452.2,170.5 L452.2,183.3 L450.27,183.57 L448.33,183.85 L446.4,184.13 L444.47,184.42 L442.54,184.71 L440.61,185.01 L438.67,185.32 L436.74,185.64 L434.81,185.98 L432.88,186.33 L430.94,186.7 L429.01,187.1 L427.08,187.52 L425.14,187.97 L423.21,188.46 L421.28,188.99 L419.35,189.56 L417.41,190.18 L415.48,190.83 L413.55,191.52 L411.62,192.25 L409.69,193 L407.75,193.78 L405.82,194.58 L403.89,195.4 L401.95,196.23 L400.02,197.08 L398.09,197.93 L396.16,198.8 L394.22,199.67 L392.29,200.55 L390.36,201.43 L388.43,202.31 L386.5,203.2 L384.56,204.1 L382.63,204.99 L380.7,205.89 L378.76,206.79 L376.83,207.7 L374.9,208.6Z" fill="#f8b4b6"/>
<path d="M374.9,191.6 L376.83,191.34 L378.76,191.09 L380.7,190.83 L382.63,190.57 L384.56,190.3 L386.5,190.04 L388.43,189.77 L390.36,189.49 L392.29,189.21 L394.22,188.93 L396.16,188.64 L398.09,188.35 L400.02,188.04 L401.95,187.73 L403.89,187.4 L405.82,187.06 L407.75,186.7 L409.69,186.32 L411.62,185.91 L413.55,185.48 L415.48,185.01 L417.41,184.5 L419.35,183.96 L421.28,183.37 L423.21,182.74 L425.14,182.07 L427.08,181.36 L429.01,180.62 L430.94,179.86 L432.88,179.07 L434.81,178.26 L436.74,177.44 L438.67,176.6 L440.61,175.75 L442.54,174.89 L444.47,174.02 L446.4,173.15 L448.33,172.27 L450.27,171.39 L452.2,170.5" fill="none" stroke="#e0303a" stroke-width="0.7" stroke-dasharray="0.8 1.2"/>
<path d="M374.9,208.6 L376.83,207.7 L378.76,206.79 L380.7,205.89 L382.63,204.99 L384.56,204.1 L386.5,203.2 L388.43,202.31 L390.36,201.43 L392.29,200.55 L394.22,199.67 L396.16,198.8 L398.09,197.93 L400.02,197.08 L401.95,196.23 L403.89,195.4 L405.82,194.58 L407.75,193.78 L409.69,193 L411.62,192.25 L413.55,191.52 L415.48,190.83 L417.41,190.18 L419.35,189.56 L421.28,188.99 L423.21,188.46 L425.14,187.97 L427.08,187.52 L429.01,187.1 L430.94,186.7 L432.88,186.33 L434.81,185.98 L436.74,185.64 L438.67,185.32 L440.61,185.01 L442.54,184.71 L444.47,184.42 L446.4,184.13 L448.33,183.85 L450.27,183.57 L452.2,183.3" fill="none" stroke="#e0303a" stroke-width="0.7" stroke-dasharray="0.8 1.2"/>
<line x1="374.9" y1="200.1" x2="452.2" y2="176.9" stroke="#d4242c" stroke-width="1.05"/>
<circle cx="374.7" cy="196.4" r="1.75" fill="#d4101c"/>
<circle cx="393" cy="195.9" r="1.75" fill="#d4101c"/>
<circle cx="398.6" cy="180.1" r="1.75" fill="#d4101c"/>
<circle cx="405.1" cy="195.9" r="1.75" fill="#d4101c"/>
<circle cx="405.1" cy="198.3" r="1.75" fill="#d4101c"/>
<circle cx="408.8" cy="196.8" r="1.75" fill="#d4101c"/>
<circle cx="410" cy="191.5" r="1.75" fill="#d4101c"/>
<circle cx="413.7" cy="193.9" r="1.75" fill="#d4101c"/>
<circle cx="414.4" cy="189.8" r="1.75" fill="#d4101c"/>
<circle cx="416.1" cy="194.4" r="1.75" fill="#d4101c"/>
<circle cx="419.7" cy="180.5" r="1.75" fill="#d4101c"/>
<circle cx="421.4" cy="181.8" r="1.75" fill="#d4101c"/>
<circle cx="423.4" cy="181.3" r="1.75" fill="#d4101c"/>
<circle cx="421" cy="185.4" r="1.75" fill="#d4101c"/>
<circle cx="418.5" cy="189.1" r="1.75" fill="#d4101c"/>
<circle cx="420.5" cy="193.4" r="1.75" fill="#d4101c"/>
<circle cx="424.6" cy="192.7" r="1.75" fill="#d4101c"/>
<circle cx="426.6" cy="191" r="1.75" fill="#d4101c"/>
<circle cx="427" cy="187.1" r="1.75" fill="#d4101c"/>
<circle cx="426.3" cy="172.5" r="1.75" fill="#d4101c"/>
<circle cx="433.1" cy="183.7" r="1.75" fill="#d4101c"/>
<circle cx="434.3" cy="160.4" r="1.75" fill="#d4101c"/>
<circle cx="435.1" cy="189.1" r="1.75" fill="#d4101c"/>
<circle cx="436.3" cy="178.1" r="1.75" fill="#d4101c"/>
<circle cx="452.1" cy="182.5" r="1.75" fill="#d4101c"/>
<line x1="350.1" y1="145.3" x2="350.1" y2="220" stroke="#777" stroke-width="1"/>
<line x1="350.1" y1="145.7" x2="353.5" y2="145.7" stroke="#777" stroke-width="1"/>
<text transform="translate(349.2,148.1) scale(1,1.04)" font-size="6.4" text-anchor="end" fill="#333">1.5</text>
<line x1="350.1" y1="170.3" x2="353.5" y2="170.3" stroke="#777" stroke-width="1"/>
<text transform="translate(349.2,172.7) scale(1,1.04)" font-size="6.4" text-anchor="end" fill="#333">1.0</text>
<line x1="350.1" y1="194.9" x2="353.5" y2="194.9" stroke="#777" stroke-width="1"/>
<text transform="translate(349.2,197.3) scale(1,1.04)" font-size="6.4" text-anchor="end" fill="#333">0.5</text>
<line x1="350.1" y1="219.5" x2="353.5" y2="219.5" stroke="#777" stroke-width="1"/>
<text transform="translate(349.2,221.9) scale(1,1.04)" font-size="6.4" text-anchor="end" fill="#333">0.0</text>
<line x1="358" y1="227.8" x2="474.5" y2="227.8" stroke="#777" stroke-width="1"/>
<line x1="373.65" y1="227.8" x2="373.65" y2="224.9" stroke="#777" stroke-width="1"/>
<text transform="translate(373.65,234.9) scale(1,1.04)" font-size="6.4" text-anchor="middle" fill="#333">150</text>
<line x1="398.76" y1="227.8" x2="398.76" y2="224.9" stroke="#777" stroke-width="1"/>
<text transform="translate(398.76,234.9) scale(1,1.04)" font-size="6.4" text-anchor="middle" fill="#333">200</text>
<line x1="423.88" y1="227.8" x2="423.88" y2="224.9" stroke="#777" stroke-width="1"/>
<text transform="translate(423.88,234.9) scale(1,1.04)" font-size="6.4" text-anchor="middle" fill="#333">250</text>
<line x1="449" y1="227.8" x2="449" y2="224.9" stroke="#777" stroke-width="1"/>
<text transform="translate(449,234.9) scale(1,1.04)" font-size="6.4" text-anchor="middle" fill="#333">300</text>
<line x1="474.11" y1="227.8" x2="474.11" y2="224.9" stroke="#777" stroke-width="1"/>
<text transform="translate(474.11,234.9) scale(1,1.04)" font-size="6.4" text-anchor="middle" fill="#333">350</text>
<text transform="translate(416,243.9) scale(1,1.04)" font-size="6.7" text-anchor="middle" fill="#222">SSRT (ms)</text>
<text transform="translate(336.2,183) rotate(-90)" font-size="7" text-anchor="middle" fill="#222">Absolute power (uV)</text>
</svg>
</body></html>
